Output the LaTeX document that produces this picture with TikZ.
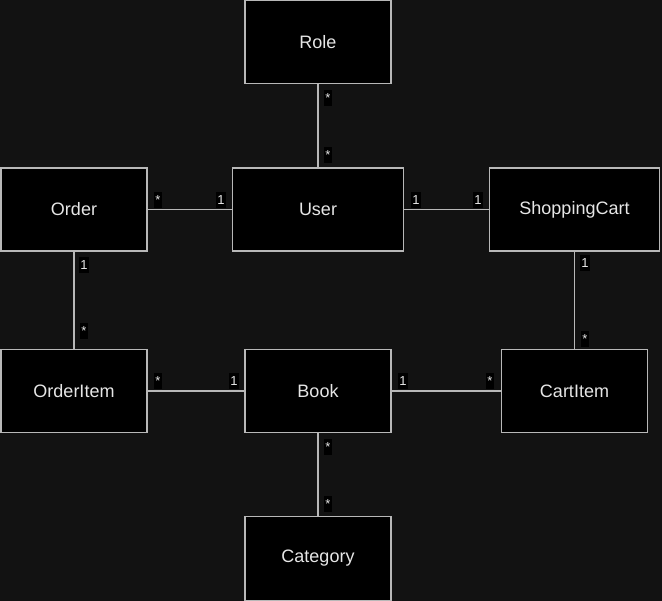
\documentclass[tikz,border=0pt]{standalone}
\usepackage{fontspec}
\setmainfont{Liberation Sans}
\definecolor{bgdark}{HTML}{121212}
\definecolor{edgegray}{HTML}{B8B8B8}
\definecolor{textgray}{HTML}{E6E6E6}

\begin{document}
\begin{tikzpicture}[x=1pt,y=-1pt,
  entity/.style={draw=edgegray, fill=black, text=textgray, line width=1.2pt,
    minimum width=146pt, minimum height=83pt, inner sep=0pt, font=\fontsize{18}{20}\selectfont},
  assoc/.style={draw=edgegray, line width=1.2pt},
  mult/.style={fill=black, text=textgray, inner xsep=1pt, inner ysep=0pt,
    minimum height=16pt, font=\fontsize{13}{14}\selectfont}]
\useasboundingbox[fill=bgdark] (0,0) rectangle (662,601);
% classes
\node[entity] (role) at (318,42) {Role};
\node[entity] (order) at (74,209.5) {Order};
\node[entity, minimum width=171pt] (user) at (318,209.5) {User};
\node[entity, minimum width=170pt] (cart) at (574.5,209.5) {ShoppingCart};
\node[entity] (orderitem) at (74,391) {OrderItem};
\node[entity] (book) at (318,391) {Book};
\node[entity] (cartitem) at (574.5,391) {CartItem};
\node[entity, minimum height=84pt] (category) at (318,558.5) {Category};
% associations
\draw[assoc] (role) -- (user);
\draw[assoc] (order) -- (user);
\draw[assoc] (user) -- (cart);
\draw[assoc] (order) -- (orderitem);
\draw[assoc] (cart) -- (cartitem);
\draw[assoc] (orderitem) -- (book);
\draw[assoc] (book) -- (cartitem);
\draw[assoc] (book) -- (category);
% multiplicities
\node[mult] (m1) at (328,98.5) {*};
\node[mult] (m2) at (328,155) {*};
\node[mult] (m3) at (158,200.5) {*};
\node[mult] (m4) at (221,200.5) {1};
\node[mult] (m5) at (416,200.5) {1};
\node[mult] (m6) at (478,200.5) {1};
\node[mult] (m7) at (84,265) {1};
\node[mult] (m8) at (84,331) {*};
\node[mult] (m9) at (585,263) {1};
\node[mult] (m10) at (585,339) {*};
\node[mult] (m11) at (158,381.5) {*};
\node[mult] (m12) at (234,381.5) {1};
\node[mult] (m13) at (403,381.5) {1};
\node[mult] (m14) at (490,381.5) {*};
\node[mult] (m15) at (328,447) {*};
\node[mult] (m16) at (328,504) {*};
\end{tikzpicture}
\end{document}
